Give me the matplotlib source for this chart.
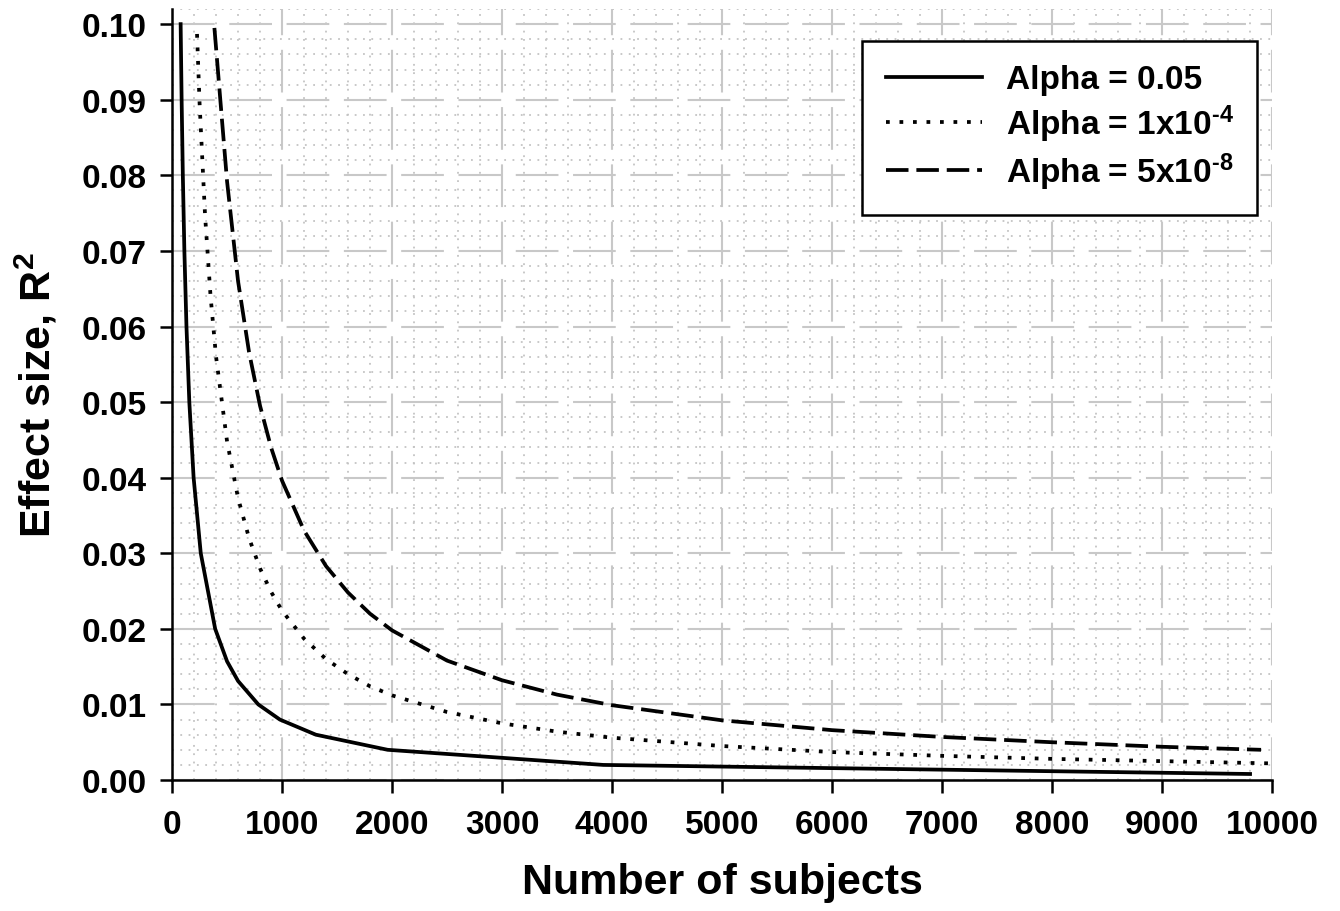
import matplotlib
matplotlib.use("Agg")
import matplotlib.pyplot as plt
from matplotlib.ticker import MultipleLocator, FormatStrFormatter

plt.rcParams['font.family'] = ['Liberation Sans', 'DejaVu Sans']
plt.rcParams['font.weight'] = 'bold'
plt.rcParams['mathtext.fontset'] = 'custom'
plt.rcParams['mathtext.rm'] = 'Liberation Sans:bold'
plt.rcParams['mathtext.it'] = 'Liberation Sans:bold'
plt.rcParams['mathtext.bf'] = 'Liberation Sans:bold'

# Data
n_a05 = [78, 87, 98, 112, 131, 157, 196, 261, 392, 500, 600, 784, 980, 1307, 1960, 3920, 9800]
r2_a05 = [0.100, 0.090, 0.080, 0.070, 0.060, 0.050, 0.040, 0.030, 0.020, 0.0157, 0.0131,
          0.010, 0.008, 0.006, 0.004, 0.002, 0.0008]

n_a1e4 = [227, 250, 300, 350, 400, 500, 600, 700, 800, 900, 1000, 1200, 1400, 1600, 1800,
          2000, 2500, 3000, 3500, 4000, 5000, 6000, 7000, 8000, 9000, 10000]
r2_a1e4 = [0.0987, 0.0896, 0.0747, 0.0640, 0.0560, 0.0448, 0.0373, 0.0320, 0.0280, 0.0249,
           0.0224, 0.0187, 0.0160, 0.0140, 0.0124, 0.0112, 0.0090, 0.0075, 0.0064, 0.0056,
           0.0045, 0.0037, 0.0032, 0.0028, 0.0025, 0.0022]

n_a5e8 = [385, 450, 500, 600, 700, 800, 900, 1000, 1200, 1400, 1600, 1800, 2000, 2500, 3000,
          3500, 4000, 5000, 6000, 7000, 8000, 9000, 9900]
r2_a5e8 = [0.0995, 0.0880, 0.0792, 0.0660, 0.0566, 0.0495, 0.0440, 0.0396, 0.0330, 0.0283,
           0.0248, 0.0220, 0.0198, 0.0158, 0.0132, 0.0113, 0.0099, 0.0079, 0.0066, 0.0057,
           0.0050, 0.0044, 0.0040]

labels = ['Alpha = 0.05', r'Alpha = 1x10$^{\text{-4}}$', r'Alpha = 5x10$^{\text{-8}}$']
x_ticks = list(range(0, 10001, 1000))
y_ticks = [i / 100 for i in range(0, 11)]

fig = plt.figure(figsize=(13.4, 9.12), dpi=100)
ax = fig.add_axes([0.1284, 0.1436, 0.9493 - 0.1284, 0.989 - 0.1436])

ax.plot(n_a05, r2_a05, color='black', lw=2.7, linestyle='-', label=labels[0], zorder=5)
ax.plot(n_a1e4, r2_a1e4, color='black', lw=2.7, linestyle=(0, (1, 2.6)), label=labels[1], zorder=5)
ax.plot(n_a5e8, r2_a5e8, color='black', lw=2.7, linestyle=(0, (6.0, 2.1)), label=labels[2], zorder=5)

ax.set_xlim(0, 10000)
ax.set_ylim(0, 0.102)
ax.set_xticks(x_ticks)
ax.set_yticks(y_ticks)
ax.yaxis.set_major_formatter(FormatStrFormatter('%.2f'))
ax.xaxis.set_minor_locator(MultipleLocator(200))
ax.yaxis.set_minor_locator(MultipleLocator(0.002))

ax.set_axisbelow(True)
ax.grid(which='minor', color='#c4c4c4', lw=1.3, linestyle=(0, (1, 3.6)))
ax.grid(which='major', color='#c8c8c8', lw=1.5, linestyle=(0, (20.5, 7)))

for s in ['top', 'right']:
    ax.spines[s].set_visible(False)
for s in ['left', 'bottom']:
    ax.spines[s].set_linewidth(1.8)
ax.tick_params(which='major', direction='out', length=9, width=1.8, labelsize=24)
ax.tick_params(axis='x', pad=12)
ax.tick_params(axis='y', pad=9)
ax.tick_params(which='minor', length=0)
for lab in ax.get_xticklabels() + ax.get_yticklabels():
    lab.set_fontweight('bold')

ax.set_xlabel('Number of subjects', fontsize=31, fontweight='bold', labelpad=16)
ax.set_ylabel('Effect size, R$^{2}$', fontsize=31, fontweight='bold', labelpad=16)

leg = ax.legend(loc='upper right', bbox_to_anchor=(1257 / 1340, 1 - 42 / 912),
                bbox_transform=fig.transFigure, fontsize=24, frameon=True, fancybox=False,
                edgecolor='black', framealpha=1, handlelength=2.9, handletextpad=0.7,
                labelspacing=0.2, borderpad=0.7, borderaxespad=0)
leg.get_frame().set_linewidth(1.8)
for t in leg.get_texts():
    t.set_fontweight('bold')

fig.savefig('out.png', dpi=100)
